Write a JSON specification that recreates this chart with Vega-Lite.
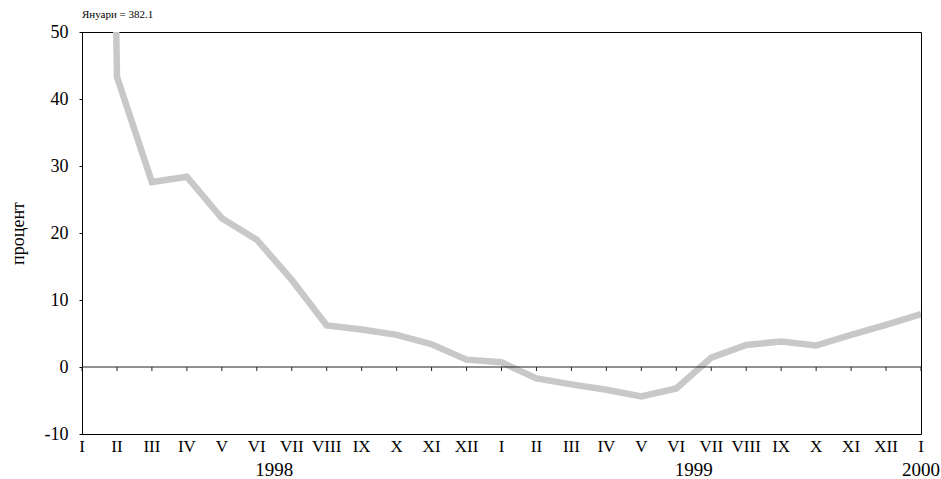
{
  "$schema": "https://vega.github.io/schema/vega-lite/v6.json",
  "width": 839,
  "height": 402,
  "autosize": {"type": "none"},
  "padding": {"left": 82, "top": 32, "right": 20, "bottom": 45},
  "background": "white",
  "config": {
    "view": {"stroke": "black", "strokeWidth": 1},
    "font": "Liberation Serif",
    "axis": {"labelFont": "Liberation Serif", "titleFont": "Liberation Serif", "grid": false}
  },
  "title": {
    "text": "Януари = 382.1",
    "anchor": "start",
    "frame": "group",
    "font": "Liberation Serif",
    "fontSize": 11,
    "fontWeight": "normal",
    "color": "black",
    "offset": 3
  },
  "datasets": {
    "series": [
      {"t": 0, "month": "I", "value": 382.1},
      {"t": 1, "month": "II", "value": 43.3},
      {"t": 2, "month": "III", "value": 27.6},
      {"t": 3, "month": "IV", "value": 28.4},
      {"t": 4, "month": "V", "value": 22.2},
      {"t": 5, "month": "VI", "value": 19.0},
      {"t": 6, "month": "VII", "value": 13.0},
      {"t": 7, "month": "VIII", "value": 6.2},
      {"t": 8, "month": "IX", "value": 5.6},
      {"t": 9, "month": "X", "value": 4.8},
      {"t": 10, "month": "XI", "value": 3.4},
      {"t": 11, "month": "XII", "value": 1.1},
      {"t": 12, "month": "I", "value": 0.7},
      {"t": 13, "month": "II", "value": -1.7},
      {"t": 14, "month": "III", "value": -2.6},
      {"t": 15, "month": "IV", "value": -3.4},
      {"t": 16, "month": "V", "value": -4.4},
      {"t": 17, "month": "VI", "value": -3.2},
      {"t": 18, "month": "VII", "value": 1.4},
      {"t": 19, "month": "VIII", "value": 3.3},
      {"t": 20, "month": "IX", "value": 3.8},
      {"t": 21, "month": "X", "value": 3.2},
      {"t": 22, "month": "XI", "value": 4.8},
      {"t": 23, "month": "XII", "value": 6.3},
      {"t": 24, "month": "I", "value": 7.9}
    ],
    "zero": [{"level": 0}],
    "years": [
      {"t": 5.5, "year": "1998"},
      {"t": 17.5, "year": "1999"},
      {"t": 24, "year": "2000"}
    ]
  },
  "layer": [
    {
      "data": {"name": "series"},
      "mark": {"type": "line", "color": "#c8c8c8", "strokeWidth": 6.5, "clip": true, "strokeJoin": "miter", "strokeCap": "butt"},
      "encoding": {
        "x": {
          "field": "t",
          "type": "quantitative",
          "scale": {"domain": [0, 24], "nice": false, "zero": false},
          "axis": null
        },
        "y": {
          "field": "value",
          "type": "quantitative",
          "scale": {"domain": [-10, 50], "nice": false},
          "axis": {
            "title": "процент",
            "titleFontSize": 18,
            "titleFontWeight": "normal",
            "titleColor": "black",
            "titlePadding": 17,
            "values": [-10, 0, 10, 20, 30, 40, 50],
            "labelExpr": "toString(datum.value)",
            "tickSize": 3,
            "tickColor": "black",
            "domainColor": "black",
            "labelFontSize": 18,
            "labelColor": "black",
            "labelPadding": 11
          }
        }
      }
    },
    {
      "data": {"name": "zero"},
      "mark": {"type": "rule", "color": "#222222", "strokeWidth": 1},
      "encoding": {
        "y": {"field": "level", "type": "quantitative"}
      }
    },
    {
      "data": {"name": "series"},
      "mark": {"type": "rule", "color": "#222222", "strokeWidth": 1},
      "encoding": {
        "x": {"field": "t", "type": "quantitative"},
        "y": {"datum": 0, "type": "quantitative"},
        "y2": {"datum": -0.6}
      }
    },
    {
      "data": {"name": "series"},
      "mark": {"type": "text", "font": "Liberation Serif", "fontSize": 17, "color": "black", "baseline": "top", "dy": 5},
      "encoding": {
        "x": {"field": "t", "type": "quantitative"},
        "y": {"datum": -10, "type": "quantitative"},
        "text": {"field": "month"}
      }
    },
    {
      "data": {"name": "years"},
      "mark": {"type": "text", "font": "Liberation Serif", "fontSize": 19, "color": "black", "baseline": "top", "dy": 27},
      "encoding": {
        "x": {"field": "t", "type": "quantitative"},
        "y": {"datum": -10, "type": "quantitative"},
        "text": {"field": "year"}
      }
    }
  ]
}
